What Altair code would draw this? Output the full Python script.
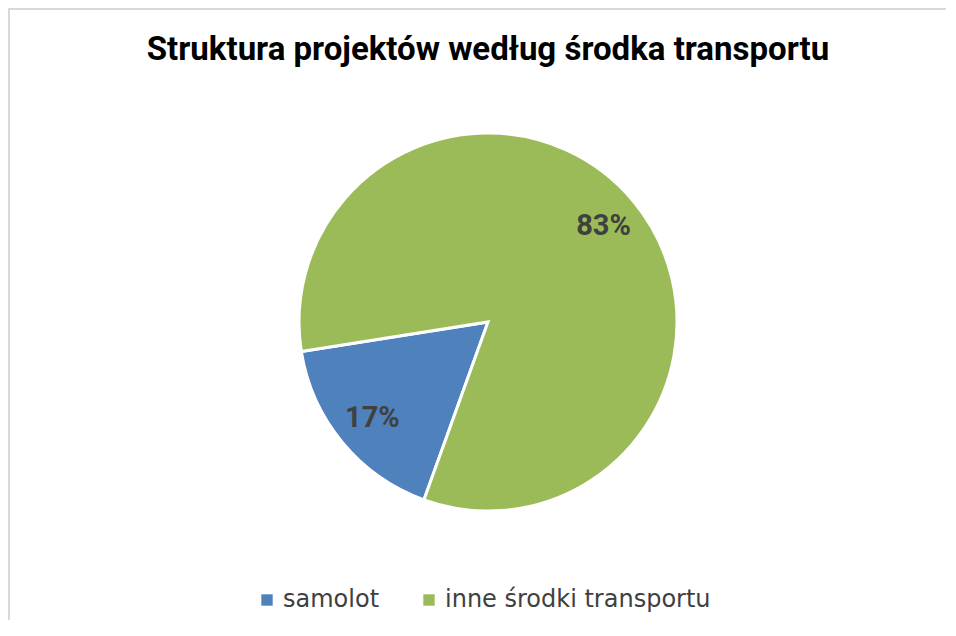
import math
import altair as alt
import pandas as pd

title_text = "Struktura projektów według środka transportu"
categories = ["samolot", "inne środki transportu"]
values = [17, 83]
labels = ["17%", "83%"]
colors = ["#4F81BD", "#9BBB59"]

df = pd.DataFrame({
    "kategoria": categories,
    "wartosc": values,
    "etykieta": labels,
    "kolejnosc": [0, 1],
})

start = math.radians(199.8)
theta_scale = alt.Scale(range=[start, start + 2 * math.pi])
color_scale = alt.Scale(domain=categories, range=colors)

W, H = 938, 612
CX, CY = 480, 314
R = 189

base = alt.Chart(df).encode(
    theta=alt.Theta("wartosc:Q", stack=True, scale=theta_scale),
    order=alt.Order("kolejnosc:Q"),
)

pie = base.mark_arc(radius=R, stroke="white", strokeWidth=3).encode(
    x=alt.value(CX),
    y=alt.value(CY),
    color=alt.Color(
        "kategoria:N",
        scale=color_scale,
        sort=categories,
        legend=alt.Legend(
            title=None,
            orient="none",
            direction="horizontal",
            legendX=247,
            legendY=580,
            symbolType="square",
            symbolSize=130,
            symbolStrokeWidth=0,
            labelFont="DejaVu Sans",
            labelFontSize=24,
            labelColor="#404040",
            labelOffset=4,
            labelLimit=400,
            columnPadding=37,
        ),
    ),
)

text = base.mark_text(
    radius=150, font="Roboto", fontSize=29, fontWeight="bold", color="#404040"
).encode(
    x=alt.value(CX),
    y=alt.value(CY),
    text="etykieta:N",
)

title_df = pd.DataFrame({"t": [title_text]})
title = alt.Chart(title_df).mark_text(
    font="Roboto", fontSize=33, fontWeight="bold", color="#000000", baseline="middle"
).encode(x=alt.value(CX), y=alt.value(42), text="t:N")

border = pd.DataFrame({"a": [0]})
frame = alt.Chart(border).mark_rect(
    fill="transparent", stroke="#d9d9d9", strokeWidth=2
).encode(
    x=alt.value(1), x2=alt.value(W + 30), y=alt.value(1), y2=alt.value(H + 30)
)

chart = alt.layer(frame, pie, text, title).properties(
    width=W,
    height=H,
    padding=0,
    autosize=alt.AutoSizeParams(type="none"),
).configure_view(strokeWidth=0, stroke="transparent")

chart.save("out.html", embed_options={"renderer": "svg", "actions": False})
